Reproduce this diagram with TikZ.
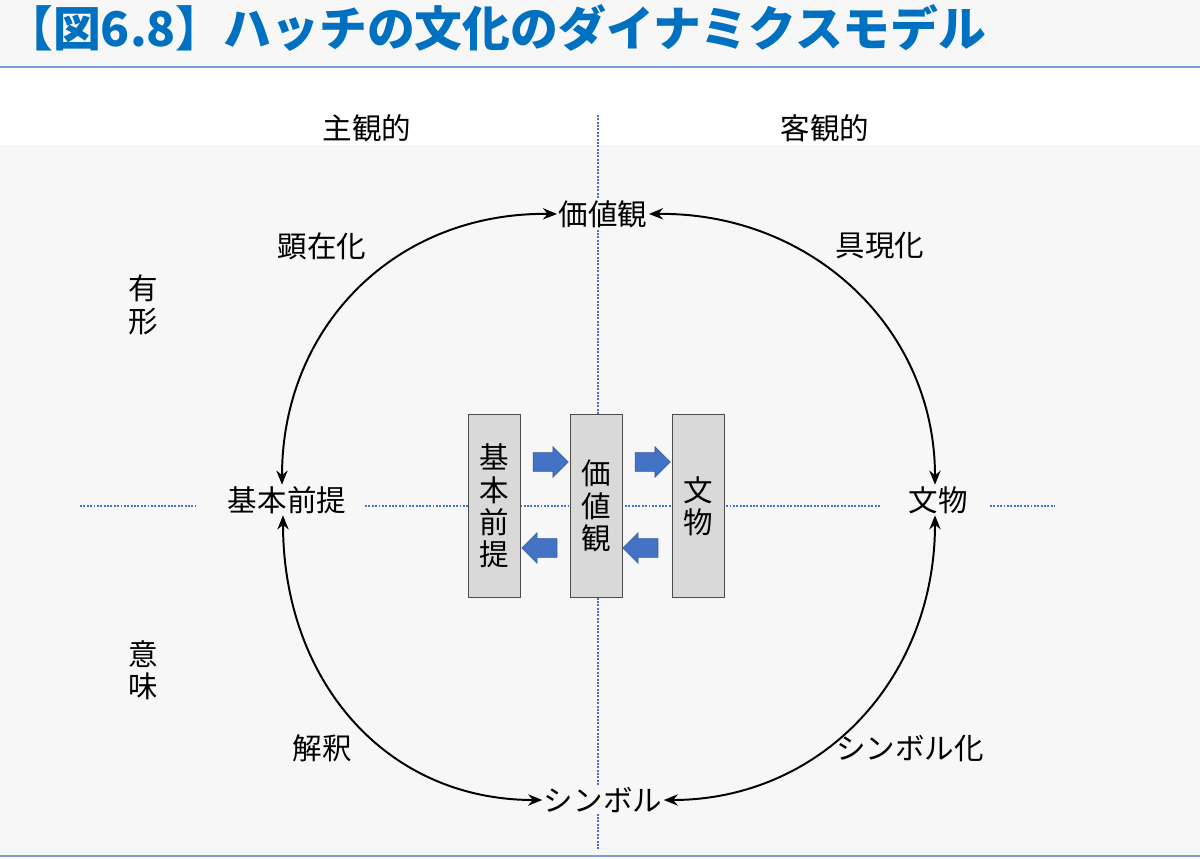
\documentclass[tikz,border=0pt]{standalone}
\usepackage{fontspec}
\setmainfont{Noto Sans CJK JP}
\newfontfamily\titlefont{Noto Sans CJK JP Black}
\usetikzlibrary{shapes.arrows,arrows.meta}
\definecolor{titleblue}{RGB}{0,112,192}
\definecolor{axisblue}{RGB}{68,114,196}
\definecolor{boxgray}{RGB}{217,217,217}
\definecolor{bggray}{RGB}{247,247,247}

\tikzset{
	lbl/.style={font=\fontsize{21}{23}\selectfont, inner sep=1pt},
	vbox/.style={draw=black!70, fill=boxgray, minimum width=1.3cm, minimum height=4.575cm, align=center, font=\fontsize{21}{23}\selectfont, inner sep=0pt},
	blk/.style={single arrow, fill=axisblue, draw=axisblue!80!black, single arrow head extend=0.15cm, single arrow head indent=0pt, minimum height=0.88cm, text height=0.45cm, text depth=0pt, text width=0pt, inner sep=0pt},
	cyc/.style={{Stealth[length=10pt,width=8pt]}-{Stealth[length=10pt,width=8pt]}, line width=1.4pt},
	axis/.style={axisblue, densely dotted, line width=1.4pt}
}

\begin{document}
\begin{tikzpicture}[x=0.025cm, y=-0.025cm]
	\useasboundingbox (0,0) rectangle (1200,859);
	
	%%% background and title
	\fill[bggray] (0,0) rectangle (1200,66);
	\fill[bggray] (0,145) rectangle (1200,855);
	\draw[axisblue!70, thick] (0,67) -- (1200,67);
	\draw[axisblue!70, thick] (0,856) -- (1200,856);
	\node[anchor=west, text=titleblue, font=\titlefont\fontsize{34}{36}\selectfont, inner sep=0pt] (title) at (5,28) {【図6.8】ハッチの文化のダイナミクスモデル};
	
	%%% axes
	\draw[axis] (598,115) -- (598,850);
	\draw[axis] (80,506) -- (195,506);
	\draw[axis] (365,506) -- (880,506);
	\draw[axis] (990,506) -- (1055,506);
	
	%%% labels
	\node[lbl, fill=white] (subj) at (367,128) {主観的};
	\node[lbl, fill=white] (obj) at (825,128) {客観的};
	\node[lbl, fill=bggray] (value) at (603,214) {価値観};
	\node[lbl, fill=bggray] (basic) at (287,500) {基本前提};
	\node[lbl, fill=bggray] (artifact) at (938,500) {文物};
	\node[lbl, fill=bggray] (symbol) at (603,800) {シンボル};
	\node[lbl] (manifest) at (322,246) {顕在化};
	\node[lbl] (embody) at (880,246) {具現化};
	\node[lbl] (interp) at (322,748) {解釈};
	\node[lbl] (symbolize) at (910,748) {シンボル化};
	\node[lbl, align=center] (tangible) at (143,305) {有\\形};
	\node[lbl, align=center] (meaning) at (143,670) {意\\味};
	
	%%% cycle
	\draw[cyc] (value.west) .. controls (395,212) and (282,327) .. (basic.north -| 282,0);
	\draw[cyc] (value.east) .. controls (810,212) and (935,327) .. (artifact.north -| 935,0);
	\draw[cyc] (basic.south -| 283,0) .. controls (283,680) and (385,800) .. (symbol.west);
	\draw[cyc] (artifact.south -| 935,0) .. controls (935,680) and (820,800) .. (symbol.east);
	
	%%% center boxes
	\node[vbox] (b1) at (494,506) {基\\本\\前\\提};
	\node[vbox] (b2) at (596,506) {価\\値\\観};
	\node[vbox] (b3) at (698,506) {文\\物};
	\node[blk] (r1) at (546,462) {};
	\node[blk] (r2) at (648,462) {};
	\node[blk, shape border rotate=180] (l1) at (544,548) {};
	\node[blk, shape border rotate=180] (l2) at (645,548) {};
\end{tikzpicture}
\end{document}
